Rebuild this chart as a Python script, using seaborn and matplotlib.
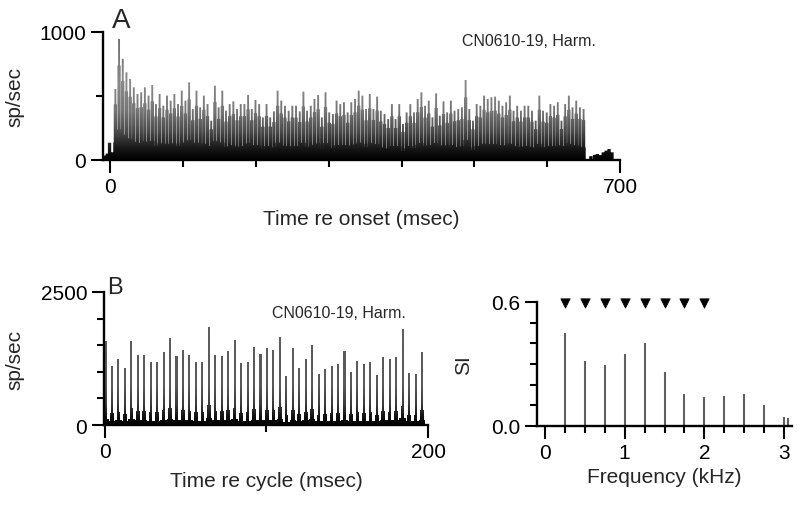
import numpy as np
import matplotlib
matplotlib.use("Agg")
import matplotlib.pyplot as plt
import seaborn as sns
from matplotlib.ticker import FixedLocator
from matplotlib.path import Path
from matplotlib.patches import PathPatch
from matplotlib.colors import LinearSegmentedColormap

# --- panel A: PSTH, one peak per stimulus cycle (sp/sec), left to right
psth_peaks = [
    555, 945, 790, 685, 633, 568, 516, 529, 568, 503, 586, 437, 516, 424, 503, 464,
    516, 437, 542, 464, 607, 398, 542, 411, 503, 437, 307, 581, 411, 542, 385, 437,
    458, 398, 437, 437, 508, 398, 469, 437, 333, 437, 333, 380, 542, 464, 424, 385,
    424, 424, 380, 534, 385, 424, 477, 508, 333, 529, 372, 359, 464, 437, 451, 372,
    451, 477, 542, 503,
    398, 516, 398, 495, 385, 359, 320, 437, 320, 437, 281, 372, 437, 372, 477, 529,
    424, 464, 333, 521, 346, 458, 372, 464, 385, 398, 411, 625, 398, 307, 437, 424,
    503, 477, 490,
    495, 464, 424, 451, 503, 385, 424, 385, 424, 424, 385, 307, 503, 385, 372, 437,
    424, 451, 307, 437, 503, 411, 464, 411, 398,
]
psth_first, psth_last = 7, 650  # msec
spont_t = [-8, -4, -1, 3, 660, 665, 669, 673, 677, 681, 685, 689]
spont_h = [35, 50, 135, 60, 30, 40, 47, 38, 60, 73, 86, 60]

# --- panel B: period histogram, one peak per 4 ms cycle
cycle_peaks = [
    1587, 1102, 1240, 1064, 1587, 1316, 1316, 1190, 1178, 1379,
    1631, 1291, 1404, 1310, 1178, 1178, 1851, 1322, 1291, 1398,
    1593, 1159, 1178, 1461, 1329, 1455, 1404, 1662, 926, 1455,
    1064, 1240, 1511, 957, 1052, 1102, 1140, 1398, 1001, 1196,
    1152, 1178, 945, 1272, 1240, 1278, 1807, 970, 957, 1379,
]
cycle_period = 4.0

# --- panel C: synchronization index vs frequency
si_freq = [0.25, 0.5, 0.75, 1.0, 1.25, 1.5, 1.75, 2.0, 2.25, 2.5, 2.75, 3.0, 3.05]
si_val = [0.448, 0.315, 0.294, 0.347, 0.40, 0.261, 0.153, 0.142, 0.145, 0.153, 0.10, 0.045, 0.04]
harmonic_freq = [0.25, 0.5, 0.75, 1.0, 1.25, 1.5, 1.75, 2.0]

unit_label = "CN0610-19, Harm."

sns.set_style("ticks")
plt.rcParams["font.family"] = ["Liberation Sans", "DejaVu Sans"]


def shade_bars(ax, bar_groups, stops, top):
    # fill the union of all bars with a dark-to-gray vertical gradient
    paths = []
    for bars in bar_groups:
        for b in bars:
            paths.append(b.get_path().transformed(b.get_patch_transform()))
            b.set_visible(False)
    clip = PathPatch(Path.make_compound_path(*paths), transform=ax.transData,
                     facecolor="none", edgecolor="none")
    ax.add_patch(clip)
    xlim, ylim = ax.get_xlim(), ax.get_ylim()
    cmap = LinearSegmentedColormap.from_list("shade", stops)
    grad = np.linspace(0, 1, 256).reshape(-1, 1)
    im = ax.imshow(grad, extent=[xlim[0], xlim[1], 0, top], origin="lower",
                   aspect="auto", cmap=cmap, zorder=2, interpolation="bilinear")
    im.set_clip_path(clip)
    ax.set_xlim(xlim)
    ax.set_ylim(ylim)


fig = plt.figure(figsize=(8, 5.1), dpi=100)
axA = fig.add_axes([103 / 800, 1 - 161 / 510, 517 / 800, 128 / 510])
axB = fig.add_axes([104 / 800, 1 - 426 / 510, 324 / 800, 133 / 510])
axC = fig.add_axes([537 / 800, 1 - 427 / 510, 255 / 800, 124 / 510])

# panel A: narrow spike at the peak, wider shoulder below it, solid dark floor
axA.set_xlim(-10, 700)
axA.set_ylim(0, 1000)
tA = np.linspace(psth_first, psth_last, len(psth_peaks))
hA = np.array(psth_peaks)
spikesA = axA.bar(tA, hA, width=2.6)
shoulderA = axA.bar(tA, 0.78 * hA, width=4.5)
floorA = axA.bar(tA, 0.25 * hA, width=5.2)
spontA = axA.bar(spont_t, spont_h, width=4.5)
shade_bars(axA, [spikesA, shoulderA, floorA, spontA],
           [(0, "#000000"), (0.08, "#141414"), (0.22, "#4a4a4a"), (0.38, "#757575"),
            (0.6, "#8a8a8a"), (1, "#6a6a6a")], 1000)
axA.set_xticks([0, 700])
axA.xaxis.set_minor_locator(FixedLocator([100, 200, 300, 400, 500, 600]))
axA.set_yticks([0, 1000])
axA.yaxis.set_minor_locator(FixedLocator([500]))
axA.set_xlabel("Time re onset (msec)")
axA.set_ylabel("sp/sec")
axA.xaxis.set_label_coords(0.5, -0.38)
axA.yaxis.set_label_coords(-0.152, 0.5)

# panel B
axB.set_xlim(-0.6, 200)
axB.set_ylim(0, 2500)
tB = np.arange(len(cycle_peaks)) * cycle_period + 0.3
hB = np.array(cycle_peaks)
spikesB = axB.bar(tB, hB, width=1.3)
midB = axB.bar(tB, 0.2 * hB, width=2.2)
baseB = axB.bar(tB, 0.07 * hB, width=4.05)
shade_bars(axB, [spikesB, midB, baseB],
           [(0, "#000000"), (0.06, "#111111"), (0.15, "#3a3a3a"), (0.3, "#595959"),
            (1, "#626262")], 2500)
axB.set_xticks([0, 200])
axB.xaxis.set_minor_locator(FixedLocator([100]))
axB.set_yticks([0, 2500])
axB.yaxis.set_minor_locator(FixedLocator([500, 1000, 1500, 2000]))
axB.set_xlabel("Time re cycle (msec)")
axB.set_ylabel("sp/sec")
axB.xaxis.set_label_coords(0.5, -0.345)
axB.yaxis.set_label_coords(-0.245, 0.5)

# panel C
axC.vlines(si_freq, 0, si_val, color="#606060", linewidth=1.5)
sns.scatterplot(x=harmonic_freq, y=[0.597] * len(harmonic_freq), marker="v",
                s=45, color="black", edgecolor="black", ax=axC, clip_on=False, zorder=5)
axC.set_xlim(-0.1, 3.1)
axC.set_ylim(0, 0.6)
axC.set_xticks([0, 1, 2, 3])
axC.set_xticklabels(["0", "1", "2", "3"])
axC.xaxis.set_minor_locator(FixedLocator([0.25, 0.5, 0.75, 1.25, 1.5, 1.75, 2.25, 2.5, 2.75]))
axC.set_yticks([0, 0.6])
axC.set_yticklabels(["0.0", "0.6"])
axC.yaxis.set_minor_locator(FixedLocator([0.1, 0.2, 0.3, 0.4, 0.5]))
axC.set_xlabel("Frequency (kHz)")
axC.set_ylabel("SI")
axC.xaxis.set_label_coords(0.5, -0.33)
axC.yaxis.set_label_coords(-0.25, 0.5)

for ax in (axA, axB, axC):
    sns.despine(ax=ax)
    for side in ("left", "bottom"):
        ax.spines[side].set_linewidth(1.7)
        ax.spines[side].set_color("black")
        ax.spines[side].set_zorder(6)
    ax.tick_params(which="major", length=9, width=1.5, direction="out",
                   labelsize=15, pad=3, colors="black")
    ax.tick_params(which="minor", length=5, width=1.5, direction="out", colors="black")
    ax.xaxis.label.set_size(15)
    ax.yaxis.label.set_size(15)
    ax.set_facecolor("none")

fig.text(112 / 800, 1 - 21 / 510, "A", fontsize=20, va="center")
fig.text(107 / 800, 1 - 288 / 510, "B", fontsize=17, va="center")
fig.text(462 / 800, 1 - 41 / 510, unit_label, fontsize=11.5, va="center")
fig.text(272 / 800, 1 - 313 / 510, unit_label, fontsize=11.5, va="center")

fig.savefig("out.png", dpi=100, facecolor="white")
